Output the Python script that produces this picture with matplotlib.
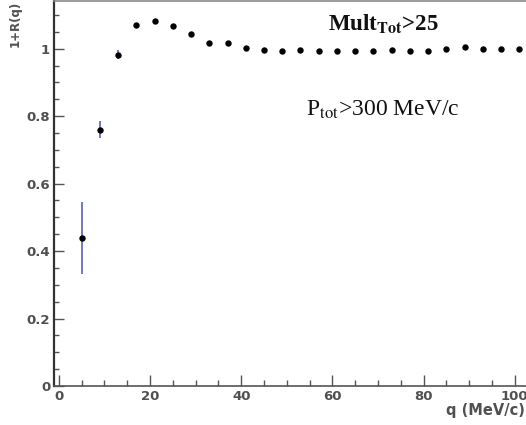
import matplotlib
matplotlib.use("Agg")
import matplotlib.pyplot as plt
from matplotlib.ticker import MultipleLocator, FuncFormatter

# correlation function 1+R(q)
q = [5, 9, 13, 17, 21, 25, 29, 33, 37, 41, 45, 49, 53,
     57, 61, 65, 69, 73, 77, 81, 85, 89, 93, 97, 101]
r = [0.438, 0.760, 0.982, 1.071, 1.081, 1.066, 1.042, 1.016, 1.018,
     1.002, 0.997, 0.993, 0.995, 0.993, 0.993, 0.993, 0.993, 0.997,
     0.993, 0.992, 0.998, 1.004, 1.000, 0.999, 0.999]
r_err = [0.107, 0.025, 0.013, 0.006, 0.006, 0.005, 0.005, 0.005, 0.004,
         0.004, 0.004, 0.004, 0.004, 0.004, 0.004, 0.004, 0.004, 0.004,
         0.004, 0.004, 0.004, 0.004, 0.004, 0.004, 0.004]

mult_label = "Mult$_{\\mathbf{Tot}}$>25"
ptot_label = "P$_{\\mathrm{tot}}$>300 MeV/c"

plt.rcParams["mathtext.fontset"] = "stix"

fig = plt.figure(figsize=(5.26, 4.25), dpi=100)
# axes run past the right edge of the picture, like the cropped original
ax = fig.add_axes([54.3 / 526, 39 / 425, 506 / 526, 384.6 / 425])

ax.errorbar(q, r, yerr=r_err, fmt="none", ecolor="#4a56a8", elinewidth=1.1, capsize=0)
ax.plot(q, r, "o", color="black", markersize=4.6, markeredgewidth=0)

ax.set_xlim(-1, 110)
ax.set_ylim(0, 1.14)

#---- ticks
ax.xaxis.set_major_locator(MultipleLocator(20))
ax.xaxis.set_minor_locator(MultipleLocator(5))
ax.yaxis.set_major_locator(MultipleLocator(0.2))
ax.yaxis.set_minor_locator(MultipleLocator(0.05))
ax.yaxis.set_major_formatter(FuncFormatter(lambda v, p: "%g" % round(v, 2)))
ax.tick_params(which="both", direction="in", top=False, right=False,
               colors="#555555", width=1.0, pad=3)
ax.tick_params(axis="x", which="major", length=8)
ax.tick_params(axis="x", which="minor", length=4)
ax.tick_params(axis="y", which="major", length=7)
ax.tick_params(axis="y", which="minor", length=3.5)
for lab in ax.get_xticklabels() + ax.get_yticklabels():
    lab.set_family("DejaVu Sans")
    lab.set_fontsize(9.5)
    lab.set_fontweight("bold")
    lab.set_color("#505050")

#---- frame
ax.spines["left"].set_color("#333333")
ax.spines["left"].set_linewidth(1.6)
ax.spines["bottom"].set_color("#555555")
ax.spines["bottom"].set_linewidth(1.2)
ax.spines["top"].set_color("#8a8a8a")
ax.spines["top"].set_linewidth(1.2)
ax.spines["right"].set_visible(False)

#---- axis titles
fig.text(15 / 526, 1 - 1 / 425, "1+R(q)", rotation=90, ha="center", va="top",
         family="DejaVu Sans", fontsize=8.5, fontweight="bold", color="#505050")
fig.text(525 / 526, 1 - 411 / 425, "q (MeV/c)", ha="right", va="center",
         family="DejaVu Sans", fontsize=10.5, fontweight="bold", color="#505050")

#---- labels inside the plot
ax.text(59.0, 1.054, mult_label, ha="left", va="baseline",
        family="Liberation Serif", fontsize=16.5, fontweight="bold", color="#111111")
ax.text(54.3, 0.802, ptot_label, ha="left", va="baseline",
        family="Liberation Serif", fontsize=17, color="#111111")

fig.savefig("out.png", dpi=100)
